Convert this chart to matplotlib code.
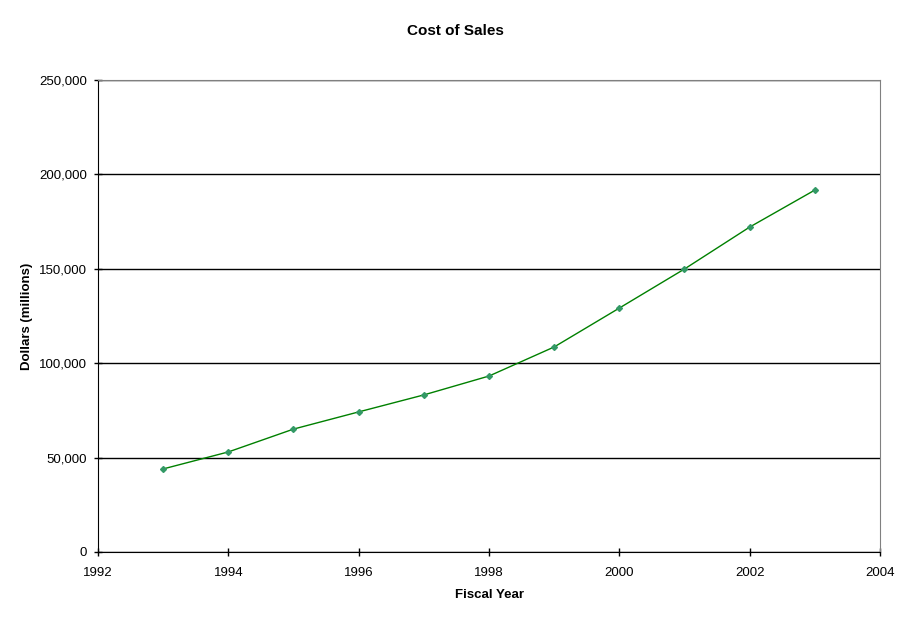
import matplotlib
matplotlib.use("Agg")
import matplotlib.pyplot as plt
from matplotlib.ticker import FuncFormatter

# ==========================================================
# DATA
# ==========================================================

years = [1993, 1994, 1995, 1996, 1997, 1998, 1999, 2000, 2001, 2002, 2003]
cost_of_sales = [44000, 53000, 65100, 74200, 83200, 93200,
                 108600, 129200, 149900, 172100, 191700]

# ==========================================================
# PLOT
# ==========================================================

plt.rcParams["font.family"] = ["Liberation Sans", "DejaVu Sans"]

fig = plt.figure(figsize=(9.11, 6.23), dpi=100)
ax = fig.add_axes([98/911, 71/623, 782/911, 472/623])

ax.plot(years, cost_of_sales, color="#008000", linewidth=1,
        marker="D", markersize=3, markerfacecolor="#339966",
        markeredgecolor="#339966", zorder=3)

ax.set_xlim(1992, 2004)
ax.set_ylim(0, 250000)
ax.set_xticks(range(1992, 2005, 2))
ax.set_yticks(range(0, 250001, 50000))
ax.yaxis.set_major_formatter(FuncFormatter(lambda v, p: f"{int(v):,}"))

ax.grid(axis="y", color="black", linewidth=1)
ax.set_axisbelow(True)

for side in ["top", "right"]:
    ax.spines[side].set_color("#808080")
for side in ["left", "bottom"]:
    ax.spines[side].set_color("black")

ax.tick_params(direction="inout", length=6, width=1, labelsize=9.5,
               colors="black")
ax.tick_params(axis="x", pad=8)
ax.tick_params(axis="y", pad=5)

fig.text(455/911, 1 - 31/623, "Cost of Sales", fontsize=11,
         fontweight="bold", ha="center", va="center")
fig.text(489/911, 1 - 595/623, "Fiscal Year", fontsize=9.5,
         fontweight="bold", ha="center", va="center")
fig.text(27/911, 1 - 316/623, "Dollars (millions)", fontsize=9.5,
         fontweight="bold", ha="center", va="center", rotation=90)

plt.savefig("out.png", dpi=100)
